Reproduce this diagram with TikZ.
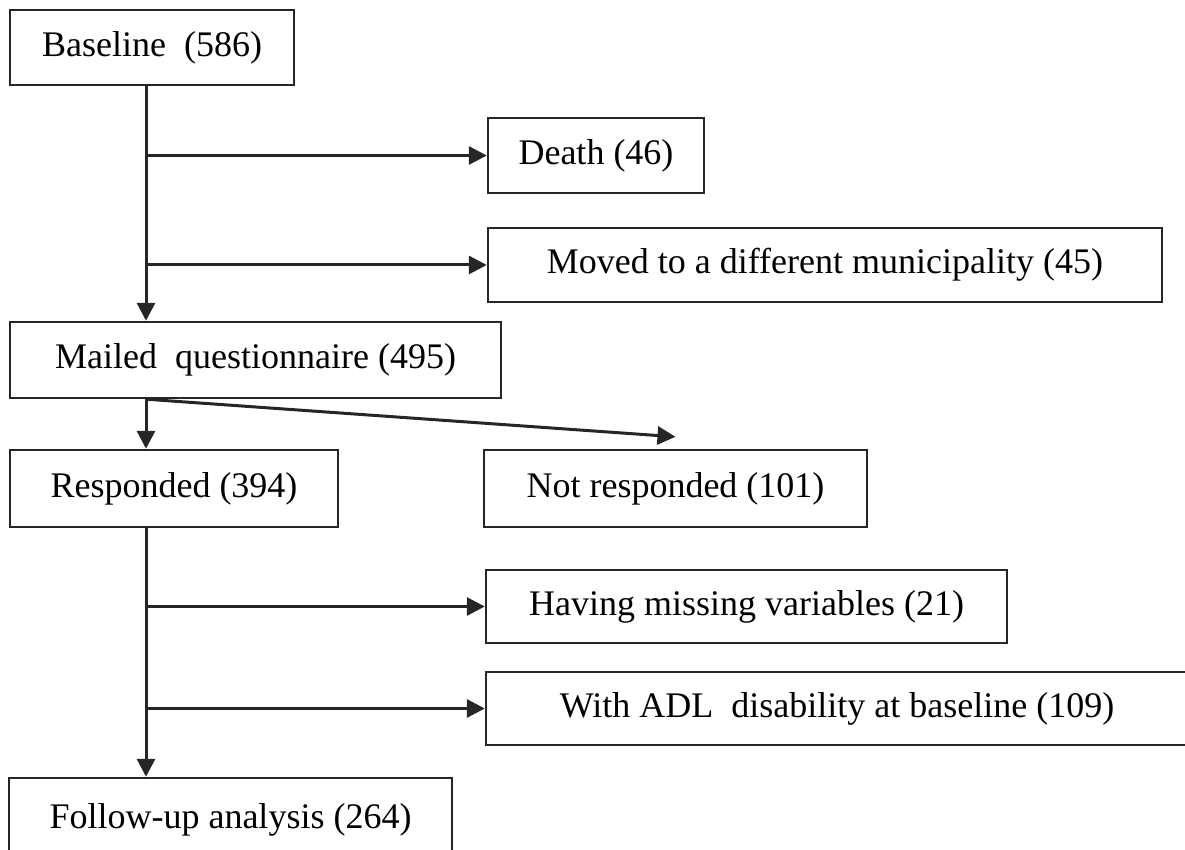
\documentclass[tikz,border=0pt]{standalone}
\usepackage{fontspec}
\setmainfont{Liberation Serif}
\usetikzlibrary{arrows.meta}

\begin{document}
\begin{tikzpicture}[x=0.5pt,y=-0.5pt,
 box/.style={draw=black!85,line width=1.2pt,inner sep=0pt,align=center,font=\fontsize{18}{21}\selectfont},
 arr/.style={-{Triangle[length=9pt,width=9pt]},line width=1.5pt,draw=black!85}]
\useasboundingbox (0,0) rectangle (1185,850);
\node[box,minimum width=142pt,minimum height=37.5pt] (base) at (152,47.5) {Baseline\ \ (586)};
\node[box,minimum width=108pt,minimum height=37.5pt] (death) at (596,155.5) {Death (46)};
\node[box,minimum width=337pt,minimum height=37pt] (moved) at (825,265) {Moved to a different municipality (45)};
\node[box,minimum width=245.5pt,minimum height=38pt] (mailed) at (255.5,360) {Mailed\ \ questionnaire (495)};
\node[box,minimum width=164pt,minimum height=38.5pt] (resp) at (174,488.5) {Responded (394)};
\node[box,minimum width=191.5pt,minimum height=38.5pt] (notresp) at (675.5,488.5) {Not responded (101)};
\node[box,minimum width=260.5pt,minimum height=36.5pt] (missing) at (746.5,606.5) {Having missing variables (21)};
\node[box,minimum width=351pt,minimum height=36.5pt] (adl) at (837,708.5) {With ADL\ \ disability at baseline (109)};
\node[box,minimum width=221.5pt,minimum height=42pt] (follow) at (230.5,820) {Follow-up analysis (264)};
\coordinate (trunk) at (146,0);
\draw[arr] (base.south -| trunk) -- (mailed.north -| trunk);
\draw[arr] (death.west -| trunk) -- (death.west);
\draw[arr] (moved.west -| trunk) -- (moved.west);
\draw[arr] (mailed.south -| trunk) -- (resp.north -| trunk);
\draw[arr] (mailed.south -| trunk) -- ([yshift=6pt]notresp.north);
\draw[arr] (resp.south -| trunk) -- (follow.north -| trunk);
\draw[arr] (missing.west -| trunk) -- (missing.west);
\draw[arr] (adl.west -| trunk) -- (adl.west);
\end{tikzpicture}
\end{document}
